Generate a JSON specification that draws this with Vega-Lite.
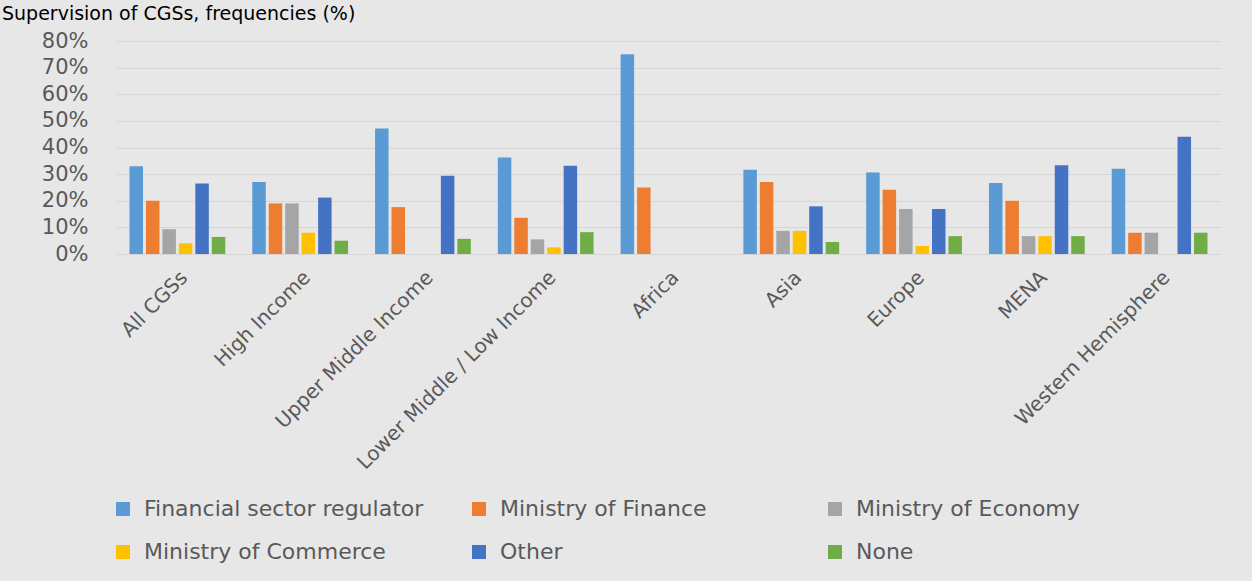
{
  "$schema": "https://vega.github.io/schema/vega-lite/v6.json",
  "autosize": {"type": "none"},
  "width": 1105,
  "height": 213,
  "padding": {"left": 116, "top": 41, "right": 31, "bottom": 327},
  "background": "#e7e7e7",
  "title": {
    "text": "Supervision of CGSs, frequencies (%)",
    "anchor": "start",
    "frame": "group",
    "font": "DejaVu Sans",
    "fontSize": 19,
    "fontWeight": "normal",
    "color": "#000000",
    "dx": -114,
    "offset": 6
  },
  "config": {
    "view": {"stroke": null},
    "axis": {"labelFont": "DejaVu Sans", "labelColor": "#595959"},
    "legend": {"labelFont": "DejaVu Sans", "labelColor": "#595959"}
  },
  "data": {
    "values": [
      {"group": "All CGSs", "supervisor": "Financial sector regulator", "pct": 0.33},
      {"group": "All CGSs", "supervisor": "Ministry of Finance", "pct": 0.2},
      {"group": "All CGSs", "supervisor": "Ministry of Economy", "pct": 0.093},
      {"group": "All CGSs", "supervisor": "Ministry of Commerce", "pct": 0.04},
      {"group": "All CGSs", "supervisor": "Other", "pct": 0.265},
      {"group": "All CGSs", "supervisor": "None", "pct": 0.064},
      {"group": "High Income", "supervisor": "Financial sector regulator", "pct": 0.27},
      {"group": "High Income", "supervisor": "Ministry of Finance", "pct": 0.19},
      {"group": "High Income", "supervisor": "Ministry of Economy", "pct": 0.19},
      {"group": "High Income", "supervisor": "Ministry of Commerce", "pct": 0.08},
      {"group": "High Income", "supervisor": "Other", "pct": 0.212},
      {"group": "High Income", "supervisor": "None", "pct": 0.05},
      {"group": "Upper Middle Income", "supervisor": "Financial sector regulator", "pct": 0.471},
      {"group": "Upper Middle Income", "supervisor": "Ministry of Finance", "pct": 0.176},
      {"group": "Upper Middle Income", "supervisor": "Ministry of Economy", "pct": 0},
      {"group": "Upper Middle Income", "supervisor": "Ministry of Commerce", "pct": 0},
      {"group": "Upper Middle Income", "supervisor": "Other", "pct": 0.294},
      {"group": "Upper Middle Income", "supervisor": "None", "pct": 0.057},
      {"group": "Lower Middle / Low Income", "supervisor": "Financial sector regulator", "pct": 0.362},
      {"group": "Lower Middle / Low Income", "supervisor": "Ministry of Finance", "pct": 0.136},
      {"group": "Lower Middle / Low Income", "supervisor": "Ministry of Economy", "pct": 0.055},
      {"group": "Lower Middle / Low Income", "supervisor": "Ministry of Commerce", "pct": 0.025},
      {"group": "Lower Middle / Low Income", "supervisor": "Other", "pct": 0.331},
      {"group": "Lower Middle / Low Income", "supervisor": "None", "pct": 0.082},
      {"group": "Africa", "supervisor": "Financial sector regulator", "pct": 0.75},
      {"group": "Africa", "supervisor": "Ministry of Finance", "pct": 0.25},
      {"group": "Africa", "supervisor": "Ministry of Economy", "pct": 0},
      {"group": "Africa", "supervisor": "Ministry of Commerce", "pct": 0},
      {"group": "Africa", "supervisor": "Other", "pct": 0},
      {"group": "Africa", "supervisor": "None", "pct": 0},
      {"group": "Asia", "supervisor": "Financial sector regulator", "pct": 0.316},
      {"group": "Asia", "supervisor": "Ministry of Finance", "pct": 0.27},
      {"group": "Asia", "supervisor": "Ministry of Economy", "pct": 0.087},
      {"group": "Asia", "supervisor": "Ministry of Commerce", "pct": 0.087},
      {"group": "Asia", "supervisor": "Other", "pct": 0.179},
      {"group": "Asia", "supervisor": "None", "pct": 0.045},
      {"group": "Europe", "supervisor": "Financial sector regulator", "pct": 0.306},
      {"group": "Europe", "supervisor": "Ministry of Finance", "pct": 0.241},
      {"group": "Europe", "supervisor": "Ministry of Economy", "pct": 0.169},
      {"group": "Europe", "supervisor": "Ministry of Commerce", "pct": 0.03},
      {"group": "Europe", "supervisor": "Other", "pct": 0.169},
      {"group": "Europe", "supervisor": "None", "pct": 0.067},
      {"group": "MENA", "supervisor": "Financial sector regulator", "pct": 0.267},
      {"group": "MENA", "supervisor": "Ministry of Finance", "pct": 0.2},
      {"group": "MENA", "supervisor": "Ministry of Economy", "pct": 0.067},
      {"group": "MENA", "supervisor": "Ministry of Commerce", "pct": 0.067},
      {"group": "MENA", "supervisor": "Other", "pct": 0.333},
      {"group": "MENA", "supervisor": "None", "pct": 0.067},
      {"group": "Western Hemisphere", "supervisor": "Financial sector regulator", "pct": 0.32},
      {"group": "Western Hemisphere", "supervisor": "Ministry of Finance", "pct": 0.08},
      {"group": "Western Hemisphere", "supervisor": "Ministry of Economy", "pct": 0.08},
      {"group": "Western Hemisphere", "supervisor": "Ministry of Commerce", "pct": 0},
      {"group": "Western Hemisphere", "supervisor": "Other", "pct": 0.44},
      {"group": "Western Hemisphere", "supervisor": "None", "pct": 0.08}
    ]
  },
  "mark": {"type": "bar"},
  "encoding": {
    "x": {
      "field": "group",
      "type": "nominal",
      "sort": null,
      "title": null,
      "scale": {"paddingInner": 0.22, "paddingOuter": 0.11},
      "axis": {
        "labelAngle": -45,
        "labelFontSize": 20,
        "labelPadding": 13,
        "domain": false,
        "ticks": false,
        "labelLimit": 400
      }
    },
    "xOffset": {
      "field": "supervisor",
      "type": "nominal",
      "sort": ["Financial sector regulator", "Ministry of Finance", "Ministry of Economy", "Ministry of Commerce", "Other", "None"],
      "scale": {"paddingInner": 0.18, "paddingOuter": 0}
    },
    "y": {
      "field": "pct",
      "type": "quantitative",
      "title": null,
      "scale": {"domain": [0, 0.8], "nice": false},
      "axis": {
        "values": [0, 0.1, 0.2, 0.3, 0.4, 0.5, 0.6, 0.7, 0.8],
        "format": ".0%",
        "labelFontSize": 21,
        "labelPadding": 28,
        "domain": false,
        "ticks": false,
        "gridColor": "#d6d6d6",
        "gridWidth": 1
      }
    },
    "color": {
      "field": "supervisor",
      "type": "nominal",
      "sort": ["Financial sector regulator", "Ministry of Finance", "Ministry of Economy", "Ministry of Commerce", "Other", "None"],
      "scale": {
        "domain": ["Financial sector regulator", "Ministry of Finance", "Ministry of Economy", "Ministry of Commerce", "Other", "None"],
        "range": ["#5B9BD5", "#ED7D31", "#A5A5A5", "#FFC000", "#4472C4", "#70AD47"]
      },
      "legend": {
        "title": null,
        "orient": "none",
        "legendX": -4,
        "legendY": 457,
        "direction": "horizontal",
        "columns": 3,
        "gridAlign": "all",
        "columnPadding": 44,
        "rowPadding": 21,
        "symbolType": "square",
        "symbolSize": 196,
        "symbolStrokeWidth": 0,
        "labelFontSize": 22,
        "labelOffset": 10,
        "labelLimit": 500
      }
    }
  }
}
